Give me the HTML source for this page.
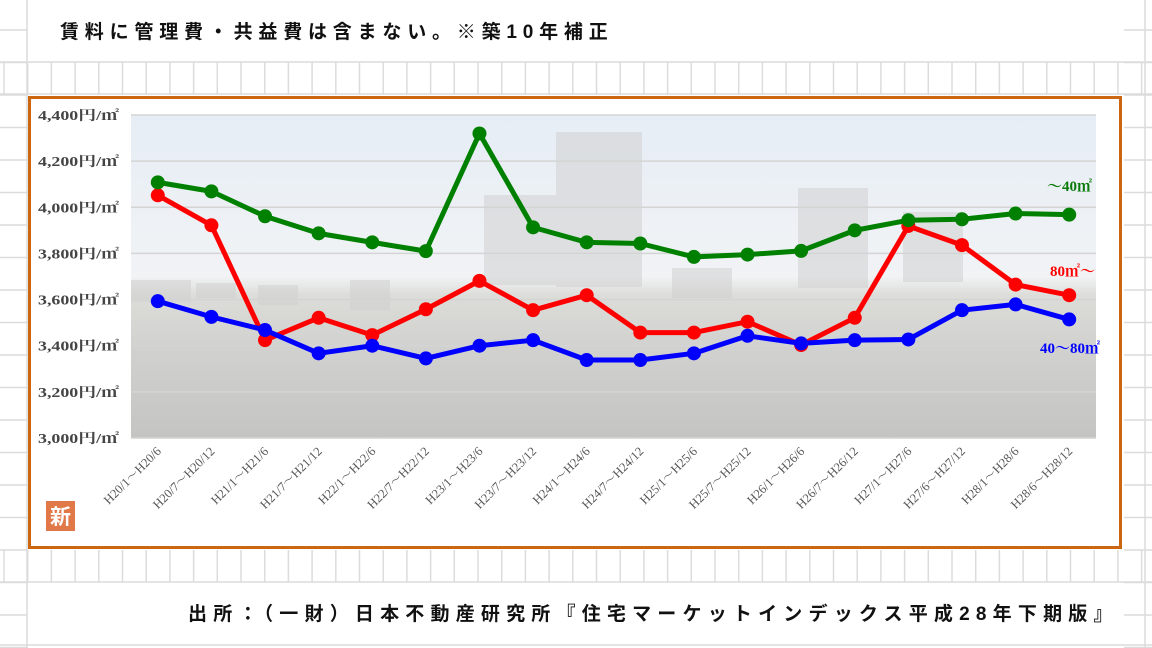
<!DOCTYPE html>
<html><head><meta charset="utf-8"><style>
body{margin:0;width:1152px;height:648px;overflow:hidden;background:#fff;font-family:"Liberation Serif","Noto Serif CJK SC",serif}
svg{display:block}
</style></head><body>
<svg id="c" width="1152" height="648" xmlns="http://www.w3.org/2000/svg">
<defs>
<linearGradient id="bg" x1="0" y1="0" x2="0" y2="1">
<stop offset="0" stop-color="#e6edf5"/><stop offset="0.5" stop-color="#f1f3f5"/><stop offset="0.56" stop-color="#dcdcd8"/><stop offset="0.7" stop-color="#d2d2d0"/><stop offset="1" stop-color="#c4c4c2"/>
</linearGradient>
</defs>
<g id="paper"></g>
<text x="60" y="38" font-size="19" font-weight="bold" letter-spacing="5.8" fill="#111" font-family="'Liberation Sans','Noto Sans CJK JP',sans-serif">賃料に管理費・共益費は含まない。※築10年補正</text>
<rect x="29.5" y="97.5" width="1091" height="450" fill="#fff" stroke="#cc6610" stroke-width="3"/>
<g id="plot"></g>
<rect x="46" y="501" width="29" height="30" fill="#e07848"/>
<text x="60.5" y="524" font-size="21" font-weight="bold" fill="#fff" text-anchor="middle" font-family="'Noto Sans CJK JP',sans-serif">新</text>
<text x="188" y="620" font-size="19" font-weight="bold" letter-spacing="6.2" fill="#111" font-family="'Liberation Sans','Noto Sans CJK JP',sans-serif">出所：（一財）日本不動産研究所『住宅マーケットインデックス平成28年下期版』</text>
</svg>
<script>
const categories=["H20/1～H20/6","H20/7～H20/12","H21/1～H21/6","H21/7～H21/12","H22/1～H22/6","H22/7～H22/12","H23/1～H23/6","H23/7～H23/12","H24/1～H24/6","H24/7～H24/12","H25/1～H25/6","H25/7～H25/12","H26/1～H26/6","H26/7～H26/12","H27/1～H27/6","H27/6～H27/12","H28/1～H28/6","H28/6～H28/12"];
const small=[4108,4069,3961,3887,3848,3810,4320,3913,3848,3843,3785,3795,3811,3900,3944,3948,3973,3968];
const large=[4052,3922,3424,3521,3446,3558,3681,3554,3619,3457,3457,3504,3403,3521,3919,3836,3665,3619];
const mid=[3593,3525,3468,3367,3400,3345,3400,3424,3338,3338,3367,3443,3410,3424,3427,3554,3579,3514];
const yTicks=[3000,3200,3400,3600,3800,4000,4200,4400];
const yTickLabels=["3,000円/㎡","3,200円/㎡","3,400円/㎡","3,600円/㎡","3,800円/㎡","4,000円/㎡","4,200円/㎡","4,400円/㎡"];
const NS="http://www.w3.org/2000/svg";
const L=131,R=1096,T=115,B=438,ymin=3000,ymax=4400;
const step=(R-L)/categories.length;
const xs=i=>L+step*(i+0.5);
const ys=v=>B-(v-ymin)/(ymax-ymin)*(B-T);
const CJK="'Liberation Serif','Noto Serif CJK JP',serif";
function mk(tag,attrs,parent){const e=document.createElementNS(NS,tag);for(const k in attrs)e.setAttribute(k,attrs[k]);parent.appendChild(e);return e;}
const paper=document.getElementById('paper');
for(let x=4;x<1152;x+=23.7){
 const l=mk('line',{x1:x,x2:x,y1:62,y2:95,stroke:'#dcdcdc','stroke-width':1.5},paper);
 
 const l2=mk('line',{x1:x,x2:x,y1:550,y2:582,stroke:'#dcdcdc','stroke-width':1.5},paper);
 
}
[62,94,582,645].forEach(y=>{const l=mk('line',{x1:0,x2:1152,y1:y,y2:y,stroke:'#dcdcdc','stroke-width':1.5},paper);});
for(let y=30;y<648;y+=32.5){[[0,28],[1124,1152]].forEach(([a,b])=>{const l=mk('line',{x1:a,x2:b,y1:y,y2:y,stroke:'#dcdcdc','stroke-width':1.5},paper);});}
[27,1145].forEach(x=>{const l=mk('line',{x1:x,x2:x,y1:0,y2:648,stroke:'#dcdcdc','stroke-width':1.5},paper);});
const plot=document.getElementById('plot');
let bgr=mk('rect',{x:L,y:T,width:R-L,height:B-T,fill:'url(#bg)'},plot);

[[484,195,72,90],[556,132,86,155],[798,188,70,100],[903,212,60,70],[672,268,60,30],[350,280,40,30],[258,285,40,20],[131,280,60,22],[196,283,40,15]].forEach(b=>{
 const r=mk('rect',{x:b[0],y:b[1],width:b[2],height:b[3],fill:'#cfcfcf',opacity:0.55},plot);
 
});
yTicks.forEach((t,i)=>{
 const g=mk('line',{x1:L,x2:R,y1:ys(t),y2:ys(t),stroke:'#d4d4d4','stroke-width':1.5},plot);
 
 const tx=mk('text',{x:119,y:ys(t)+5,'font-size':13.5,'font-weight':'bold',fill:'#444','text-anchor':'end','font-family':CJK,textLength:81,lengthAdjust:'spacingAndGlyphs'},plot);
 tx.textContent=yTickLabels[i];
 
});
categories.forEach((c,i)=>{
 const x=xs(i)+4;
 const tx=mk('text',{x:x,y:452,'font-size':12.5,fill:'#555','text-anchor':'end','font-family':CJK,transform:`rotate(-45 ${x} 452)`},plot);
 tx.textContent=c;
 
});
function series(vals,color,name){
 const g=mk('g',{},plot);
 
 const p=mk('polyline',{points:vals.map((v,i)=>xs(i)+','+ys(v)).join(' '),fill:'none',stroke:color,'stroke-width':5,'stroke-linejoin':'round'},g);
 
 vals.forEach((v,i)=>{const c=mk('circle',{cx:xs(i),cy:ys(v),r:7,fill:color},g);
 });
}
series(large,'#ff0000','series-80-plus');
series(mid,'#0000ff','series-40-80');
series(small,'#008000','series-under-40');
[["～40㎡",'#0a7a0a',1092,191],["80㎡～",'#ff0000',1095,276],["40～80㎡",'#0000ff',1100,353]].forEach(d=>{
 const t=mk('text',{x:d[2],y:d[3],'font-size':15,'font-weight':'bold',fill:d[1],'text-anchor':'end','font-family':CJK},plot);
 t.textContent=d[0];
 
});
</script>
</body></html>
